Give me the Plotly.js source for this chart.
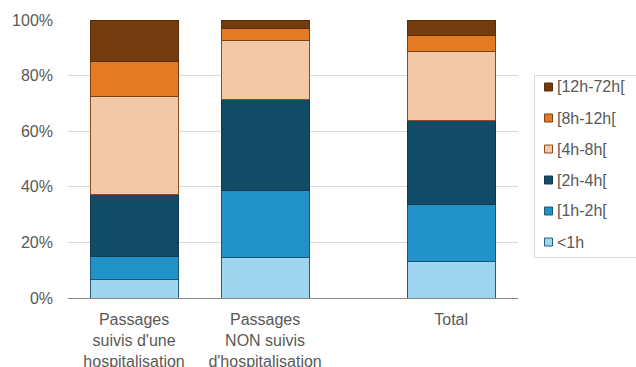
<!DOCTYPE html>
<html>
<head>
<meta charset="utf-8">
<script src="https://cdn.plot.ly/plotly-3.0.1.min.js"></script>
<style>
  html, body { margin: 0; padding: 0; background: #ffffff; }
  #chart { width: 636px; height: 367px; }
</style>
</head>
<body>
<div id="chart"></div>
<script>
// Répartition des durées de passage aux urgences (%)
const categories = [
  "Passages<br>suivis d'une<br>hospitalisation",
  "Passages<br>NON suivis<br>d'hospitalisation",
  "Total"
];
// Positions on the category axis (Total set apart from the two groups)
const positions = [1, 2, 3.42];

const seriesNames = ["<1h", "[1h-2h[", "[2h-4h[", "[4h-8h[", "[8h-12h[", "[12h-72h["];

const lt1h    = [6.6, 14.6, 13.2];
const h1to2   = [8.4, 23.9, 20.5];
const h2to4   = [22.2, 32.8, 30.3];
const h4to8   = [35.3, 21.4, 24.8];
const h8to12  = [12.5, 4.2, 5.8];
const h12to72 = [15.0, 3.1, 5.4];

const seriesValues = [lt1h, h1to2, h2to4, h4to8, h8to12, h12to72];

const fillColors = ["#a0d5ef", "#2192c8", "#124b66", "#f3c8a6", "#e57a24", "#733c0e"];
const edgeColors = ["#2a5d78", "#1d5674", "#0e3a50", "#8a4c20", "#7e3f12", "#5a2d08"];

const yTicks = [0, 20, 40, 60, 80, 100];
const yTickText = yTicks.map(v => v + "%");

const W = 636, H = 367;
const M = { l: 68, r: 118, t: 20, b: 69 };
const plotW = W - M.l - M.r, plotH = H - M.t - M.b;
// pixel -> paper coordinates, for the legend panel placed right of the plot
const px = x => (x - M.l) / plotW;
const py = y => (H - M.b - y) / plotH;

const traces = seriesNames.map((name, i) => ({
  type: "bar",
  name: name,
  x: positions,
  y: seriesValues[i],
  width: 0.672,
  marker: {
    color: fillColors[i],
    line: { color: edgeColors[i], width: 1 }
  },
  hoverinfo: "name+y"
}));

// Legend panel: framed box, longest durations listed first
const shapes = [{
  type: "rect", xref: "paper", yref: "paper",
  x0: px(534.5), x1: px(645), y0: py(257.5), y1: py(75.5),
  line: { color: "#d9d9d9", width: 1 }, fillcolor: "#ffffff", layer: "above"
}];
const annotations = [];
seriesNames.slice().reverse().forEach((name, row) => {
  const i = seriesNames.length - 1 - row;
  const cy = 87 + 31 * row;
  shapes.push({
    type: "rect", xref: "paper", yref: "paper",
    x0: px(544.5), x1: px(552.5), y0: py(cy + 4), y1: py(cy - 4),
    fillcolor: fillColors[i], line: { color: edgeColors[i], width: 1 }, layer: "above"
  });
  annotations.push({
    xref: "paper", yref: "paper",
    x: px(555), y: py(cy),
    xanchor: "left", yanchor: "middle",
    text: name.replace("<", "&lt;"),
    showarrow: false,
    font: { size: 16, color: "#595959" }
  });
});

const layout = {
  width: W,
  height: H,
  margin: { l: M.l, r: M.r, t: M.t, b: M.b, pad: 0, autoexpand: false },
  paper_bgcolor: "#ffffff",
  plot_bgcolor: "#ffffff",
  barmode: "stack",
  showlegend: false,
  font: { family: "Liberation Sans, Arial, sans-serif", size: 16, color: "#595959" },
  xaxis: {
    range: [0.496, 3.93],
    tickmode: "array",
    tickvals: positions,
    ticktext: categories,
    showgrid: false,
    zeroline: false,
    showline: true,
    linecolor: "#868686",
    linewidth: 1,
    ticks: "",
    ticklabelstandoff: 7,
    tickfont: { size: 16, color: "#595959" },
    fixedrange: true
  },
  yaxis: {
    range: [0, 100],
    tickmode: "array",
    tickvals: yTicks,
    ticktext: yTickText,
    showgrid: true,
    gridcolor: "#d9d9d9",
    gridwidth: 1,
    zeroline: false,
    showline: false,
    ticks: "",
    ticklabelstandoff: 14,
    tickfont: { size: 16, color: "#595959" },
    fixedrange: true
  },
  shapes: shapes,
  annotations: annotations
};

Plotly.newPlot("chart", traces, layout, { displayModeBar: false, staticPlot: true });
</script>
</body>
</html>
